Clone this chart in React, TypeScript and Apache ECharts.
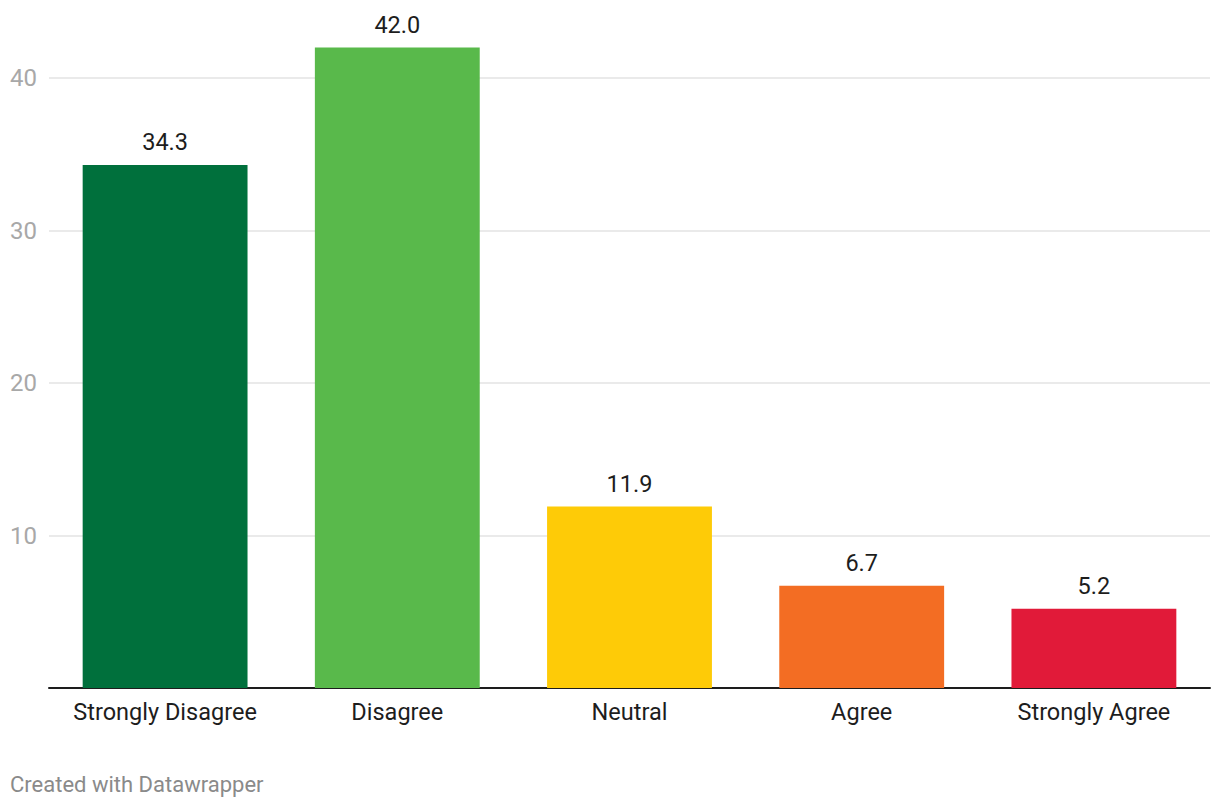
import React, { useEffect, useRef } from "react";
import * as echarts from "echarts";

const categories = ["Strongly Disagree", "Disagree", "Neutral", "Agree", "Strongly Agree"];
const values = [34.3, 42.0, 11.9, 6.7, 5.2];
const barColors = ["#00703c", "#59b94b", "#fecb07", "#f36d23", "#e11a39"];
const yTicks = [0, 10, 20, 30, 40];

export default function App() {
  const ref = useRef<HTMLDivElement>(null);
  useEffect(() => {
    document.body.style.margin = "0";
    if (!ref.current) return;
    const chart = echarts.init(ref.current, null, { renderer: "svg" });
    const font = "Roboto, 'Noto Sans', sans-serif";
    chart.setOption({
      animation: false,
      textStyle: { fontFamily: font },
      grid: { left: 49, right: 10, top: 78, bottom: 120, containLabel: false },
      xAxis: {
        type: "category",
        data: categories,
        axisLine: { show: true, lineStyle: { color: "#1d1d1d", width: 2 } },
        axisTick: { show: false },
        axisLabel: {
          color: "#1d1d1d",
          fontSize: 23.5,
          margin: 12,
          interval: 0,
          hideOverlap: false,
          fontFamily: font,
        },
      },
      yAxis: {
        type: "value",
        min: yTicks[0],
        max: yTicks[yTicks.length - 1],
        interval: 10,
        axisLine: { show: false },
        axisTick: { show: false },
        splitLine: { lineStyle: { color: "#e3e3e3", width: 1.5 } },
        axisLabel: {
          color: "#a8a8a8",
          fontSize: 24,
          align: "left",
          margin: 39,
          fontFamily: font,
          formatter: (v: number) => (v === 0 ? "" : String(v)),
        },
      },
      series: [
        {
          type: "bar",
          clip: false,
          barCategoryGap: "29%",
          data: values.map((v, i) => ({ value: v, itemStyle: { color: barColors[i] } })),
          label: {
            show: true,
            position: "top",
            distance: 11,
            color: "#1d1d1d",
            fontSize: 23.5,
            fontFamily: font,
            formatter: (p: any) => Number(p.value).toFixed(1),
          },
        },
      ],
      graphic: [
        {
          type: "text",
          left: 10,
          top: 773,
          style: { text: "Created with Datawrapper", fill: "#8a8a8a", fontSize: 22, fontFamily: font },
        },
      ],
    });
    return () => chart.dispose();
  }, []);
  return <div ref={ref} style={{ width: 1220, height: 808 }} />;
}
